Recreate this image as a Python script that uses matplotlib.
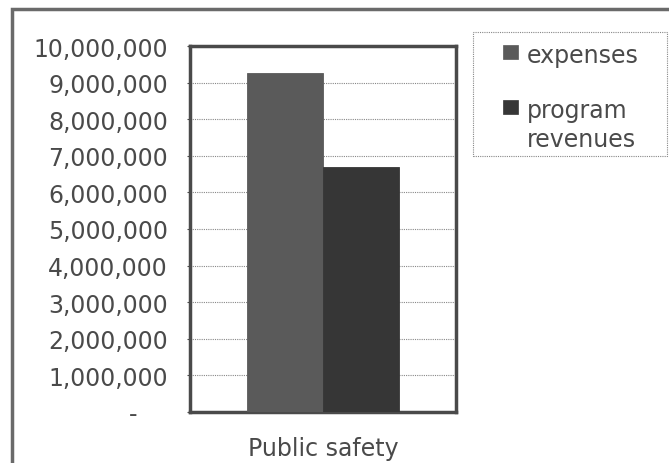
import matplotlib.pyplot as plt
from matplotlib.patches import Rectangle
from matplotlib.ticker import FuncFormatter

# Data
category = "Public safety"
series = ["expenses", "program\nrevenues"]
values = [9250000, 6700000]
colors = ["#5a5a5a", "#363636"]
yticks = list(range(0, 10000001, 1000000))

plt.rcParams['font.family'] = ['DejaVu Sans']
txt = "#4a4a4a"
fs = 17

fig = plt.figure(figsize=(6.69, 4.64), dpi=100)
fig.patch.set_facecolor("white")

# outer chart border (clipped at right and bottom)
fig.patches.append(Rectangle((12 / 669, -0.05), 1.0, 1 - 10 / 464 + 0.05,
                             transform=fig.transFigure, fill=False,
                             edgecolor="#6a6a6a", linewidth=2.5, zorder=0))

ax = fig.add_axes([190 / 669, 1 - 413 / 464, 266 / 669, 366 / 464])

w = 0.286
xs = [-w / 2, w / 2]
for x, v, c, name in zip(xs, values, colors, series):
    ax.bar(x, v, width=w, color=c, edgecolor=c, linewidth=0.6, zorder=3, label=name)

ax.set_xlim(-0.5, 0.5)
ax.set_ylim(0, 10000000)
ax.set_yticks(yticks)
ax.yaxis.set_major_formatter(FuncFormatter(lambda v, p: "-    " if v == 0 else f"{int(v):,}"))
ax.tick_params(axis="y", labelsize=fs, colors=txt, length=2, pad=14, width=0.8)
ax.set_xticks([0])
ax.set_xticklabels([category])
ax.tick_params(axis="x", labelsize=fs, colors=txt, length=0, pad=17)

ax.grid(axis="y", color="#888888", linestyle=(0, (1, 1)), linewidth=0.8, zorder=1)
for s in ax.spines.values():
    s.set_linewidth(2.5)
    s.set_color("#4a4a4a")

# legend box, drawn by hand so the swatch sits on the first line of each label
fig.patches.append(Rectangle((473 / 669, 1 - 157 / 464), 194 / 669, 124 / 464,
                             transform=fig.transFigure, fill=False,
                             edgecolor="#888888", linestyle=(0, (1, 1)),
                             linewidth=0.8))
entry_y = [53, 108]
for yy, c, name in zip(entry_y, colors, series):
    fig.patches.append(Rectangle((503 / 669, 1 - (yy + 7) / 464), 15 / 669, 14 / 464,
                                 transform=fig.transFigure, facecolor=c,
                                 edgecolor=c, linewidth=0.5))
    fig.text(527 / 669, 1 - (yy - 9) / 464, name, fontsize=fs, color=txt,
             ha="left", va="top", linespacing=1.25)

fig.savefig("out.png", dpi=100)
